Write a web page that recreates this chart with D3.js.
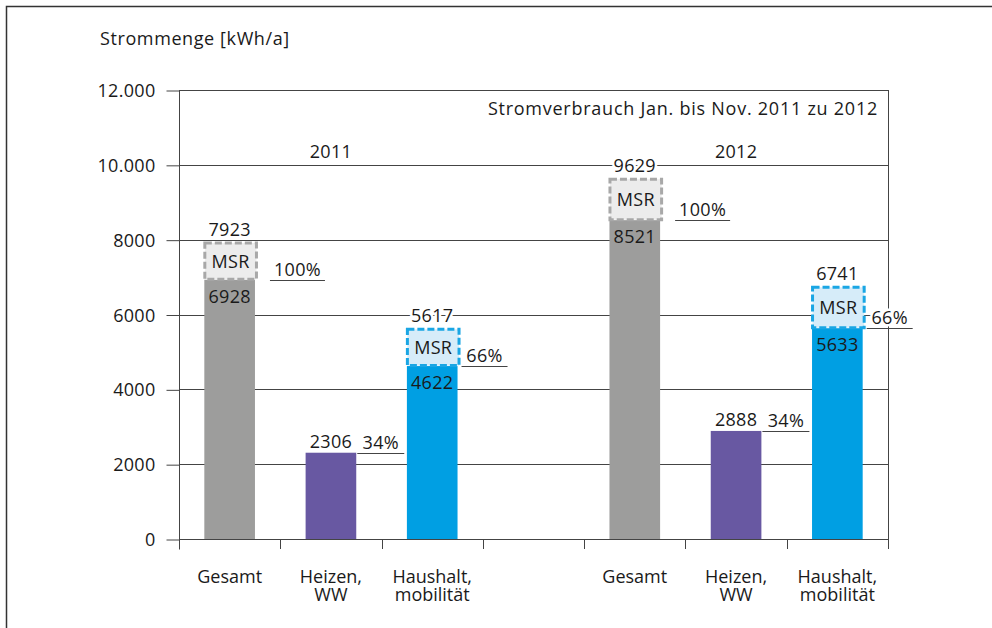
<!DOCTYPE html>
<html>
<head>
<meta charset="utf-8">
<script src="https://cdn.jsdelivr.net/npm/d3@7"></script>
<style>
  body { margin: 0; background: #fff; }
  text { font-family: "Open Sans", "Noto Sans", sans-serif; fill: #1a1a1a; font-size: 18px; letter-spacing: 0.3px; }
</style>
</head>
<body>
<svg id="chart" width="992" height="628"></svg>
<script>
// data
const years = ["2011", "2012"];
const categories = [["Gesamt"], ["Heizen,", "WW"], ["Haushalt,", "mobilität"]];
const baseValues = {
  "2011": [6928, 2306, 4622],
  "2012": [8521, 2888, 5633]
};
const msrValues = {
  "2011": [7923, null, 5617],
  "2012": [9629, null, 6741]
};
const shares = ["100%", "34%", "66%"];
const yTicks = [0, 2000, 4000, 6000, 8000, 10000, 12000];
const yTickLabels = ["0", "2000", "4000", "6000", "8000", "10.000", "12.000"];
const yTitle = "Strommenge [kWh/a]";
const chartTitle = "Stromverbrauch Jan. bis Nov. 2011 zu 2012";

const colors = ["#9d9d9c", "#6858a2", "#009fe3"];
const msrFill = ["#ececec", null, "#d6ecf9"];
const msrStroke = ["#a8a8a8", null, "#1aa6e4"];

const svg = d3.select("#chart");
const margin = { top: 90, right: 104, bottom: 89, left: 179 };
const width = 992, height = 628;

// slots: 3 categories, a gap, 3 categories
const slots = [];
years.forEach((yr, i) => {
  categories.forEach((c, j) => slots.push({ key: yr + "|" + j, year: yr, idx: j, label: c }));
  if (i === 0) slots.push({ key: "gap", year: null, idx: -1, label: [] });
});

const x = d3.scaleBand()
  .domain(slots.map(d => d.key))
  .range([margin.left, width - margin.right])
  .padding(0);

const y = d3.scaleLinear()
  .domain([0, 12000])
  .range([height - margin.bottom, margin.top]);

const bw = x.bandwidth() * 0.5;
const bx = k => x(k) + x.bandwidth() * 0.25;

// frame
svg.append("rect")
  .attr("x", 6.5).attr("y", 6.5)
  .attr("width", 1000).attr("height", 700)
  .attr("fill", "none").attr("stroke", "#333").attr("stroke-width", 1.5);

// gridlines
svg.append("g")
  .selectAll("line")
  .data(yTicks)
  .join("line")
  .attr("x1", margin.left).attr("x2", width - margin.right)
  .attr("y1", d => Math.round(y(d)) + 0.5).attr("y2", d => Math.round(y(d)) + 0.5)
  .attr("stroke", "#444").attr("stroke-width", 1);

// right border of plot
svg.append("line")
  .attr("x1", width - margin.right + 0.5).attr("x2", width - margin.right + 0.5)
  .attr("y1", y(12000)).attr("y2", y(0) + 10)
  .attr("stroke", "#444");

// y axis
const yAxis = svg.append("g")
  .attr("transform", `translate(${margin.left + 0.5},0.5)`)
  .call(d3.axisLeft(y).tickValues(yTicks).tickSize(13).tickPadding(11)
    .tickFormat((d, i) => yTickLabels[i]));
yAxis.select(".domain").attr("d", `M0,${y(12000)}V${y(0) + 10}`).attr("stroke", "#444");
yAxis.selectAll(".tick line").attr("stroke", "#444");
yAxis.selectAll("text")
  .attr("font-size", null).attr("font-family", null)
  .attr("fill", "#1a1a1a").attr("dy", "0.34em");
yAxis.attr("font-size", null).attr("font-family", null);

// x axis: ticks at band boundaries
const edges = slots.map(d => x(d.key)).concat([width - margin.right]);
svg.append("g")
  .selectAll("line")
  .data(edges)
  .join("line")
  .attr("x1", d => Math.round(d) + 0.5).attr("x2", d => Math.round(d) + 0.5)
  .attr("y1", y(0)).attr("y2", y(0) + 10)
  .attr("stroke", "#444");

// category labels, one text per line
const catLines = [];
slots.filter(d => d.year).forEach(d => d.label.forEach((l, i) => catLines.push({ key: d.key, line: i, text: l })));
svg.append("g")
  .selectAll("text")
  .data(catLines)
  .join("text")
  .attr("x", d => x(d.key) + x.bandwidth() / 2)
  .attr("y", d => y(0) + 44 + d.line * 18)
  .attr("text-anchor", "middle")
  .style("letter-spacing", "0px")
  .text(d => d.text);

// titles
svg.append("text")
  .attr("x", 100).attr("y", 45)
  .style("letter-spacing", "0.6px")
  .text(yTitle);

svg.append("text")
  .attr("x", width - margin.right - 10).attr("y", y(12000) + 25)
  .attr("text-anchor", "end")
  .style("letter-spacing", "0.75px")
  .text(chartTitle);

years.forEach(yr => {
  svg.append("text")
    .attr("x", x(yr + "|1") + x.bandwidth() / 2)
    .attr("y", y(10000) - 7)
    .attr("text-anchor", "middle")
    .text(yr);
});

// bars
const barData = [];
years.forEach(yr => categories.forEach((c, j) => barData.push({
  key: yr + "|" + j, idx: j, base: baseValues[yr][j], msr: msrValues[yr][j]
})));

svg.append("g")
  .selectAll("rect")
  .data(barData)
  .join("rect")
  .attr("x", d => bx(d.key))
  .attr("width", bw)
  .attr("y", d => y(d.base))
  .attr("height", d => y(0) - y(d.base))
  .attr("fill", d => colors[d.idx]);

// MSR boxes
const msrData = barData.filter(d => d.msr != null);
svg.append("g")
  .selectAll("rect")
  .data(msrData)
  .join("rect")
  .attr("x", d => bx(d.key) + 0.5)
  .attr("width", bw + 1)
  .attr("y", d => y(d.msr) + 0.5)
  .attr("height", d => y(d.base) - y(d.msr) - 1)
  .attr("fill", d => msrFill[d.idx])
  .attr("stroke", d => msrStroke[d.idx])
  .attr("stroke-width", 3)
  .attr("stroke-dasharray", "7,3");

const halo = sel => sel
  .attr("stroke", "#fff").attr("stroke-width", 5)
  .attr("paint-order", "stroke").attr("stroke-linejoin", "round");

// MSR label
svg.append("g")
  .selectAll("text")
  .data(msrData)
  .join("text")
  .attr("x", d => bx(d.key) + bw / 2 + 1)
  .attr("y", d => (y(d.msr) + y(d.base)) / 2 + 6.5)
  .attr("text-anchor", "middle")
  .text("MSR");

// total label above
svg.append("g")
  .selectAll("text")
  .data(barData)
  .join("text")
  .attr("x", d => bx(d.key) + bw / 2)
  .attr("y", d => d.msr != null ? y(d.msr) - 7 : y(d.base) - 5)
  .attr("text-anchor", "middle")
  .call(halo)
  .text(d => d.msr != null ? d.msr : d.base);

// base label inside bar
svg.append("g")
  .selectAll("text")
  .data(msrData)
  .join("text")
  .attr("x", d => bx(d.key) + bw / 2)
  .attr("y", d => y(d.base) + 23)
  .attr("text-anchor", "middle")
  .text(d => d.base);

// share labels with underline
const gapAfter = [15, 1, 4];
const lineLen = [55, 47, 46];
const shareG = svg.append("g")
  .selectAll("g")
  .data(barData)
  .join("g")
  .attr("transform", d => `translate(${bx(d.key) + bw + gapAfter[d.idx]},${Math.round(y(d.base)) + 0.5})`);
shareG.append("line")
  .attr("x1", 0).attr("x2", d => lineLen[d.idx])
  .attr("stroke", "#444").attr("stroke-width", 1.2);
shareG.append("text")
  .attr("x", d => lineLen[d.idx] / 2)
  .attr("y", -5)
  .attr("text-anchor", "middle")
  .call(halo)
  .text(d => shares[d.idx]);
</script>
</body>
</html>
